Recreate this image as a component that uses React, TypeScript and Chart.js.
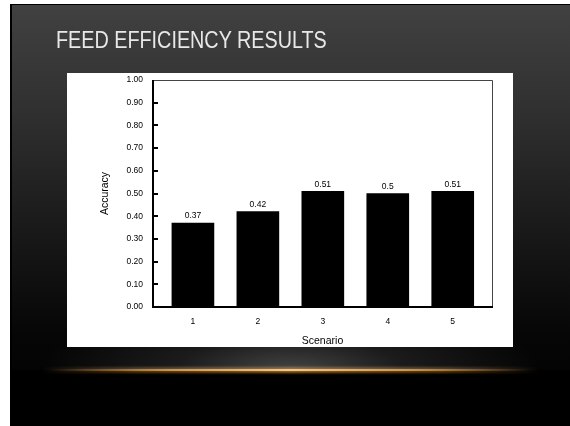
import React, { useEffect, useRef } from "react";
import { Chart, registerables } from "chart.js";

Chart.register(...registerables);

const scenarios = [1, 2, 3, 4, 5];
const accuracy = [0.37, 0.42, 0.51, 0.5, 0.51];
const accuracyLabels = ["0.37", "0.42", "0.51", "0.5", "0.51"];
const yTickValues = [0, 0.1, 0.2, 0.3, 0.4, 0.5, 0.6, 0.7, 0.8, 0.9, 1.0];
const titleText = "FEED EFFICIENCY RESULTS";
const xTitle = "Scenario";
const yTitle = "Accuracy";

const FONT = "'Liberation Sans', Arial, Helvetica, sans-serif";

const framePlugin = {
  id: "frame",
  afterDraw(chart: any) {
    const { ctx, chartArea } = chart;
    const { left, right, top, bottom } = chartArea;
    const y = chart.scales.y;
    ctx.save();
    ctx.strokeStyle = "#444";
    ctx.lineWidth = 1;
    ctx.beginPath();
    ctx.moveTo(left, top + 0.5);
    ctx.lineTo(right - 0.5, top + 0.5);
    ctx.lineTo(right - 0.5, bottom);
    ctx.stroke();
    ctx.strokeStyle = "#000";
    ctx.lineWidth = 2;
    ctx.beginPath();
    ctx.moveTo(left + 1, top);
    ctx.lineTo(left + 1, bottom);
    ctx.moveTo(left, bottom);
    ctx.lineTo(right, bottom);
    yTickValues.forEach((v) => {
      if (v <= 0 || v >= 1) return;
      const py = Math.round(y.getPixelForValue(v));
      ctx.moveTo(left, py);
      ctx.lineTo(left + 6, py);
    });
    ctx.stroke();
    ctx.restore();
  },
};

const labelPlugin = {
  id: "barLabels",
  afterDatasetsDraw(chart: any) {
    const { ctx } = chart;
    const meta = chart.getDatasetMeta(0);
    ctx.save();
    ctx.fillStyle = "#000";
    ctx.font = `8.5px ${FONT}`;
    ctx.textAlign = "center";
    ctx.textBaseline = "middle";
    meta.data.forEach((bar: any, i: number) => {
      ctx.fillText(accuracyLabels[i], bar.x, bar.y - 7);
    });
    ctx.restore();
  },
};

function ChartPanel() {
  const ref = useRef<HTMLCanvasElement | null>(null);
  useEffect(() => {
    if (!ref.current) return;
    const chart = new Chart(ref.current, {
      type: "bar",
      data: {
        datasets: [
          {
            data: scenarios.map((s, i) => ({ x: s, y: accuracy[i] })),
            backgroundColor: "#000",
            borderColor: "#000",
            borderWidth: 0,
            barThickness: 42,
          },
        ],
      },
      options: {
        animation: false,
        responsive: false,
        maintainAspectRatio: false,
        layout: { padding: { top: 7, right: 20, left: 0, bottom: 0 } },
        plugins: {
          legend: { display: false },
          tooltip: { enabled: false },
        },
        scales: {
          x: {
            type: "linear",
            min: 0.37,
            max: 5.62,
            offset: false,
            grid: { display: false, drawTicks: false },
            border: { display: false },
            afterBuildTicks: (scale: any) => {
              scale.ticks = scenarios.map((v) => ({ value: v }));
            },
            afterFit: (scale: any) => {
              scale.height = 40;
              scale.paddingLeft = 0;
              scale.paddingRight = 0;
            },
            ticks: {
              color: "#000",
              padding: 10,
              font: { family: FONT, size: 8.5 },
              maxRotation: 0,
              callback: (v: any) => String(v),
            },
            title: {
              display: true,
              text: xTitle,
              color: "#000",
              font: { family: FONT, size: 10.5, lineHeight: 1.1 },
              padding: { top: 0, bottom: 0 },
            },
          },
          y: {
            min: 0,
            max: 1,
            grid: { display: false, drawTicks: false },
            border: { display: false },
            afterBuildTicks: (scale: any) => {
              scale.ticks = yTickValues.map((v) => ({ value: v }));
            },
            afterFit: (scale: any) => {
              scale.width = 85;
              scale.paddingTop = 0;
              scale.paddingBottom = 0;
            },
            ticks: {
              color: "#000",
              padding: 9,
              font: { family: FONT, size: 8.5 },
              callback: (v: any) => Number(v).toFixed(2),
            },
            title: {
              display: true,
              text: yTitle,
              color: "#000",
              font: { family: FONT, size: 10.5, lineHeight: 1.2 },
              padding: { top: 32, bottom: 0 },
            },
          },
        },
      },
      plugins: [framePlugin, labelPlugin],
    } as any);
    return () => chart.destroy();
  }, []);
  return (
    <canvas
      ref={ref}
      width={446}
      height={274}
      style={{ position: "absolute", left: 67, top: 73, width: 446, height: 274, background: "#fff" }}
    />
  );
}

export default function App() {
  return (
    <div style={{ position: "absolute", left: 0, top: 0, width: 570, height: 426, background: "#fff", overflow: "hidden" }}>
      <div
        style={{
          position: "absolute",
          left: 10,
          top: 4,
          width: 560,
          height: 422,
          boxSizing: "border-box",
          borderLeft: "2px solid #000",
          borderTop: "1px solid #000",
          background: "linear-gradient(to bottom, #414141 0%, #303030 25%, #181818 55%, #060606 78%, #000 100%)",
        }}
      />
      <div
        style={{
          position: "absolute",
          left: 40,
          top: 300,
          width: 500,
          height: 70,
          background: "radial-gradient(ellipse 50% 100% at 50% 100%, rgba(75,75,75,0.9) 0%, rgba(50,50,50,0.5) 45%, rgba(0,0,0,0) 100%)",
        }}
      />
      <div
        style={{
          position: "absolute",
          left: 10,
          top: 370,
          width: 560,
          height: 56,
          background: "#000",
        }}
      />
      <div
        style={{
          position: "absolute",
          left: 40,
          top: 367,
          width: 500,
          height: 6,
          background: "linear-gradient(to right, rgba(120,80,30,0) 0%, rgba(140,95,40,0.6) 20%, rgba(180,125,60,0.8) 50%, rgba(140,95,40,0.6) 80%, rgba(120,80,30,0) 100%)",
          filter: "blur(1px)",
        }}
      />
      <div
        style={{
          position: "absolute",
          left: 50,
          top: 369,
          width: 480,
          height: 2,
          background: "linear-gradient(to right, rgba(220,170,100,0) 0%, rgba(220,170,100,0.8) 25%, #f0c888 50%, rgba(220,170,100,0.8) 75%, rgba(220,170,100,0) 100%)",
        }}
      />
      <div
        style={{
          position: "absolute",
          left: 56,
          top: 29,
          fontFamily: FONT,
          fontSize: 23,
          lineHeight: "23px",
          color: "#e8e8e8",
          whiteSpace: "nowrap",
          transform: "scaleX(0.86)",
          transformOrigin: "left top",
        }}
      >
        {titleText}
      </div>
      <ChartPanel />
    </div>
  );
}
